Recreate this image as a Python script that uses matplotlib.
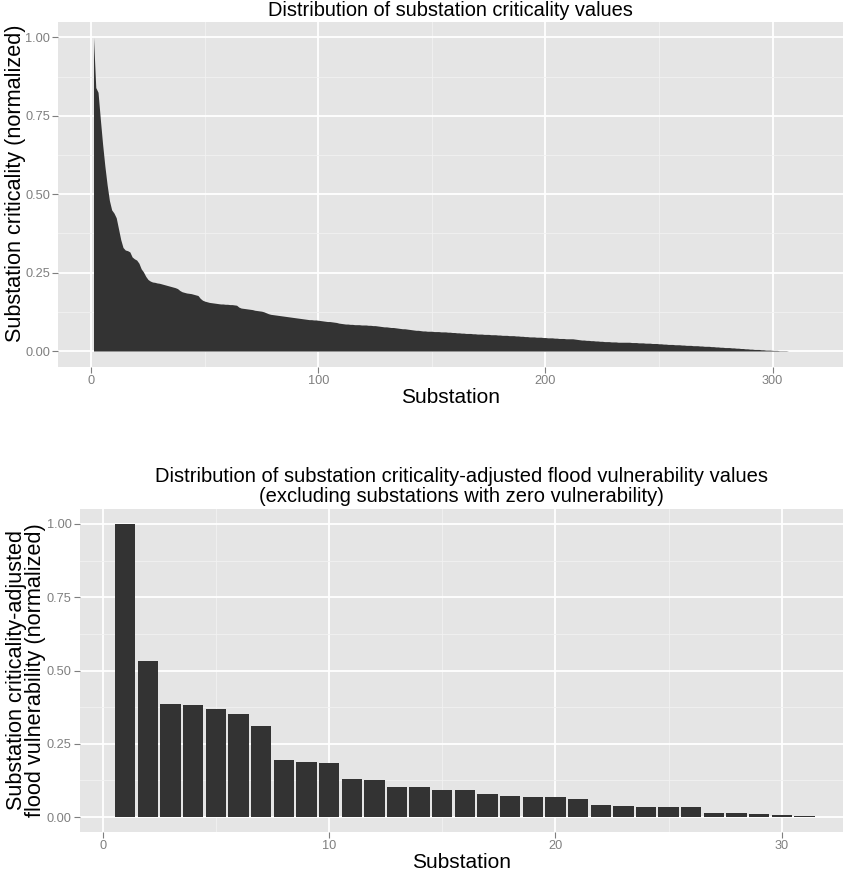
import numpy as np
import matplotlib
matplotlib.use("Agg")
import matplotlib.pyplot as plt
from matplotlib.ticker import MultipleLocator

# normalized criticality of each substation, sorted high to low
criticality = [
    1.000, 0.840, 0.825, 0.740, 0.660, 0.590, 0.530, 0.480, 0.450, 0.440,
    0.425, 0.390, 0.355, 0.330, 0.322, 0.320, 0.316, 0.300, 0.294, 0.290,
    0.280, 0.262, 0.252, 0.238, 0.228, 0.223, 0.220, 0.219, 0.217, 0.216,
    0.214, 0.212, 0.210, 0.208, 0.206, 0.204, 0.202, 0.199, 0.193, 0.189,
    0.187, 0.185, 0.184, 0.183, 0.181, 0.179, 0.177, 0.168, 0.162, 0.159,
    0.157, 0.155, 0.154, 0.153, 0.152, 0.151, 0.150, 0.150, 0.149, 0.149,
    0.148, 0.148, 0.147, 0.146, 0.140, 0.137, 0.136, 0.135, 0.134, 0.133,
    0.132, 0.130, 0.129, 0.128, 0.127, 0.125, 0.122, 0.119, 0.117, 0.116,
    0.115, 0.114, 0.113, 0.112, 0.111, 0.110, 0.109, 0.108, 0.107, 0.106,
    0.105, 0.104, 0.103, 0.102, 0.101, 0.100, 0.100, 0.099, 0.099, 0.098,
    0.097, 0.096, 0.095, 0.094, 0.094, 0.093, 0.092, 0.091, 0.089, 0.088,
    0.087, 0.086, 0.086, 0.085, 0.085, 0.084, 0.084, 0.084, 0.083, 0.083,
    0.083, 0.082, 0.082, 0.081, 0.081, 0.080, 0.079, 0.078, 0.077, 0.077,
    0.076, 0.075, 0.075, 0.074, 0.073, 0.072, 0.071, 0.071, 0.070, 0.069,
    0.068, 0.067, 0.066, 0.066, 0.065, 0.064, 0.064, 0.063, 0.063, 0.063,
    0.062, 0.062, 0.062, 0.061, 0.061, 0.061, 0.060, 0.060, 0.059, 0.059,
    0.058, 0.058, 0.057, 0.057, 0.056, 0.056, 0.056, 0.055, 0.055, 0.054,
    0.054, 0.054, 0.053, 0.053, 0.053, 0.052, 0.052, 0.052, 0.051, 0.051,
    0.050, 0.050, 0.050, 0.049, 0.049, 0.049, 0.048, 0.048, 0.047, 0.047,
    0.046, 0.046, 0.045, 0.045, 0.045, 0.044, 0.044, 0.044, 0.043, 0.043,
    0.042, 0.042, 0.042, 0.041, 0.041, 0.040, 0.040, 0.040, 0.039, 0.039,
    0.039, 0.039, 0.038, 0.037, 0.036, 0.035, 0.035, 0.034, 0.034, 0.033,
    0.033, 0.032, 0.032, 0.031, 0.031, 0.030, 0.030, 0.030, 0.029, 0.029,
    0.029, 0.028, 0.028, 0.028, 0.028, 0.028, 0.028, 0.027, 0.027, 0.027,
    0.026, 0.026, 0.026, 0.025, 0.025, 0.025, 0.024, 0.024, 0.024, 0.023,
    0.023, 0.022, 0.022, 0.021, 0.021, 0.021, 0.020, 0.020, 0.020, 0.019,
    0.019, 0.018, 0.018, 0.018, 0.017, 0.017, 0.017, 0.016, 0.016, 0.015,
    0.015, 0.015, 0.014, 0.014, 0.013, 0.013, 0.012, 0.012, 0.011, 0.011,
    0.011, 0.010, 0.010, 0.009, 0.009, 0.008, 0.008, 0.007, 0.007, 0.006,
    0.006, 0.005, 0.005, 0.005, 0.004, 0.004, 0.003, 0.003, 0.003, 0.002,
    0.002, 0.002, 0.001, 0.001, 0.001, 0.001, 0.000, 0.000, 0.000, 0.000,
]

# criticality-adjusted flood vulnerability, non-zero substations only
vulnerability = [
    1.000, 0.531, 0.386, 0.382, 0.368, 0.352, 0.310, 0.195, 0.189, 0.185,
    0.131, 0.125, 0.104, 0.104, 0.091, 0.091, 0.077, 0.071, 0.068, 0.067,
    0.062, 0.040, 0.039, 0.035, 0.034, 0.034, 0.015, 0.013, 0.009, 0.006,
    0.003,
]

crit_x = np.arange(1, len(criticality) + 1)
vuln_x = np.arange(1, len(vulnerability) + 1)

plt.rcParams["font.family"] = ["Liberation Sans", "DejaVu Sans"]

bg = "#E5E5E5"
dark = "#333333"
tick_grey = "#7F7F7F"


def gg_axes(ax):
    # grey panel with white major/minor grid, no frame
    ax.set_facecolor(bg)
    for s in ax.spines.values():
        s.set_visible(False)
    ax.grid(which="major", color="white", linewidth=1.3)
    ax.grid(which="minor", color="#F2F2F2", linewidth=0.6)
    ax.set_axisbelow(True)
    ax.tick_params(which="major", length=4, width=0.8, color=tick_grey,
                   labelcolor=tick_grey, labelsize=9.2, pad=2)
    ax.tick_params(which="minor", length=0)
    ax.yaxis.set_major_locator(MultipleLocator(0.25))
    ax.yaxis.set_minor_locator(MultipleLocator(0.125))
    ax.yaxis.set_major_formatter(lambda v, p: f"{v:.2f}")
    ax.set_ylim(-0.05, 1.05)


fig = plt.figure(figsize=(8.45, 8.74), dpi=100)

ax1 = fig.add_axes([58.3 / 845, 1 - 366.7 / 874, 784.7 / 845, 345.0 / 874])
gg_axes(ax1)
ax1.fill_between(crit_x, criticality, 0, color=dark, linewidth=0)
ax1.set_xlim(-14.5, 331)
ax1.xaxis.set_major_locator(MultipleLocator(100))
ax1.xaxis.set_minor_locator(MultipleLocator(50))
ax1.set_title("Distribution of substation criticality values", fontsize=14.4, pad=4)
ax1.set_xlabel("Substation", fontsize=15, labelpad=1)
ax1.set_ylabel("Substation criticality (normalized)", fontsize=15.6)
ax1.yaxis.set_label_coords(-0.041, 0.532)

ax2 = fig.add_axes([80 / 845, 1 - 831.7 / 874, 763 / 845, 322.4 / 874])
gg_axes(ax2)
ax2.bar(vuln_x, vulnerability, width=0.9, color=dark, linewidth=0)
ax2.set_xlim(-1.0, 32.7)
ax2.xaxis.set_major_locator(MultipleLocator(10))
ax2.xaxis.set_minor_locator(MultipleLocator(5))
ax2.set_title("Distribution of substation criticality-adjusted flood vulnerability values\n"
              "(excluding substations with zero vulnerability)",
              fontsize=14.5, pad=5, linespacing=1.1)
ax2.set_xlabel("Substation", fontsize=15, labelpad=1)
ax2.set_ylabel("Substation criticality-adjusted\nflood vulnerability (normalized)",
               fontsize=15.6, linespacing=0.92)
ax2.yaxis.set_label_coords(-0.044, 0.5)

fig.savefig("out.png", dpi=100, facecolor="white")
